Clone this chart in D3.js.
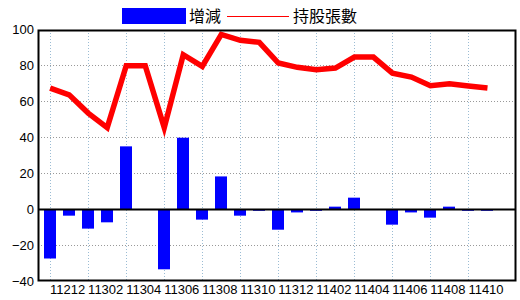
<!DOCTYPE html>
<html>
<head>
<meta charset="utf-8">
<script src="https://cdn.jsdelivr.net/npm/d3@7"></script>
<style>
  body { margin: 0; background: #fff; }
  svg { display: block; }
  .tick text { font-family: 'Liberation Sans Narrow', 'Liberation Sans', Arial, sans-serif; font-size: 13px; fill: #000; }
  .legend text { font-family: 'Noto Sans CJK TC', 'Noto Sans CJK SC', sans-serif; font-size: 16px; }
</style>
</head>
<body>
<div id="chart"></div>
<script>
const months = ['11211', '11212', '11301', '11302', '11303', '11304', '11305', '11306',
    '11307', '11308', '11309', '11310', '11311', '11312', '11401', '11402',
    '11403', '11404', '11405', '11406', '11407', '11408', '11409', '11410'];

const changeValues = [-27.5, -3.7, -10.9, -7.4, 34.8, 0, -33.5, 39.6,
    -5.9, 18.1, -3.7, -1, -11.5, -1.9, -1, 1.3,
    6.3, 0, -8.7, -1.9, -4.8, 1.3, -1, -1];

const holdingValues = [67.2, 63.4, 53.3, 45.2, 79.6, 79.6, 45.2, 85.7,
    79.2, 97, 93.7, 92.6, 81.1, 78.7, 77.4, 78.3,
    84.4, 84.4, 75.5, 73.3, 68.5, 69.6, 68.3, 67.2];

const yTicks = [-40, -20, 0, 20, 40, 60, 80, 100];

let buildChart = function() {
    let margin = { top: 30, right: 4, bottom: 19, left: 38 };
    let width = 520 - margin.left - margin.right;
    let height = 300 - margin.top - margin.bottom;

    let svg = d3.select('#chart').append('svg')
        .attr('width', 520)
        .attr('height', 300);

    let chart = svg.append('g')
        .attr('transform', 'translate(' + margin.left + ',' + margin.top + ')');

    let x = d3.scaleLinear().domain([-0.64, 24.5]).range([0, width]);
    let y = d3.scaleLinear().domain([-40, 100]).range([height, -1]);
    let barWidth = 12;

    // horizontal grid
    chart.append('g')
        .selectAll('line')
        .data(yTicks.filter(d => d !== 0 && d !== -40 && d !== 100))
        .join('line')
        .attr('x1', 0).attr('x2', width)
        .attr('y1', d => Math.round(y(d)) + 0.5).attr('y2', d => Math.round(y(d)) + 0.5)
        .attr('stroke', '#999')
        .attr('stroke-dasharray', '1,2');

    // vertical grid
    chart.append('g')
        .selectAll('line')
        .data(months.filter((d, i) => i % 2 === 0))
        .join('line')
        .attr('x1', d => Math.round(x(months.indexOf(d))) + 0.5)
        .attr('x2', d => Math.round(x(months.indexOf(d))) + 0.5)
        .attr('y1', 0).attr('y2', height)
        .attr('stroke', '#9bbcd4')
        .attr('stroke-dasharray', '1,2');

    // bars
    chart.append('g')
        .selectAll('rect')
        .data(changeValues)
        .join('rect')
        .attr('x', (d, i) => Math.round(x(i) - barWidth / 2))
        .attr('width', barWidth)
        .attr('y', d => y(Math.max(0, d)))
        .attr('height', d => Math.abs(y(d) - y(0)))
        .attr('fill', '#0000ff');

    // zero line
    chart.append('line')
        .attr('x1', 0).attr('x2', width)
        .attr('y1', Math.round(y(0)) + 0.5).attr('y2', Math.round(y(0)) + 0.5)
        .attr('stroke', '#000')
        .attr('stroke-width', 2);

    // holding line
    let line = d3.line()
        .x((d, i) => x(i))
        .y(d => y(d));

    chart.append('path')
        .datum(holdingValues)
        .attr('d', line)
        .attr('fill', 'none')
        .attr('stroke', '#ff0000')
        .attr('stroke-width', 5.5)
        .attr('stroke-linejoin', 'miter');

    // frame
    chart.append('rect')
        .attr('x', 0.5).attr('y', 0.5)
        .attr('width', width - 1).attr('height', height - 1)
        .attr('fill', 'none')
        .attr('stroke', '#000')
        .attr('stroke-width', 2);

    // axes
    let yAxis = d3.axisLeft(y).tickValues(yTicks).tickSize(0).tickPadding(4);
    chart.append('g').call(yAxis).call(g => g.select('.domain').remove());

    let xAxis = d3.axisBottom(x)
        .tickValues(d3.range(1, months.length, 2))
        .tickFormat(i => months[i])
        .tickSize(0).tickPadding(4);
    chart.append('g')
        .attr('transform', 'translate(-2,' + height + ')')
        .call(xAxis)
        .call(g => g.select('.domain').remove());

    // legend
    let legend = svg.append('g').classed('legend', true);
    legend.append('rect')
        .attr('x', 122).attr('y', 8)
        .attr('width', 64).attr('height', 16)
        .attr('fill', '#0000ff');
    legend.append('text')
        .attr('x', 189).attr('y', 22)
        .text('增減');
    legend.append('line')
        .attr('x1', 227).attr('x2', 289)
        .attr('y1', 16).attr('y2', 16)
        .attr('stroke', '#ff0000')
        .attr('stroke-width', 1)
        .attr('shape-rendering', 'crispEdges');
    legend.append('text')
        .attr('x', 293).attr('y', 22)
        .text('持股張數');
}

buildChart();
</script>
</body>
</html>
